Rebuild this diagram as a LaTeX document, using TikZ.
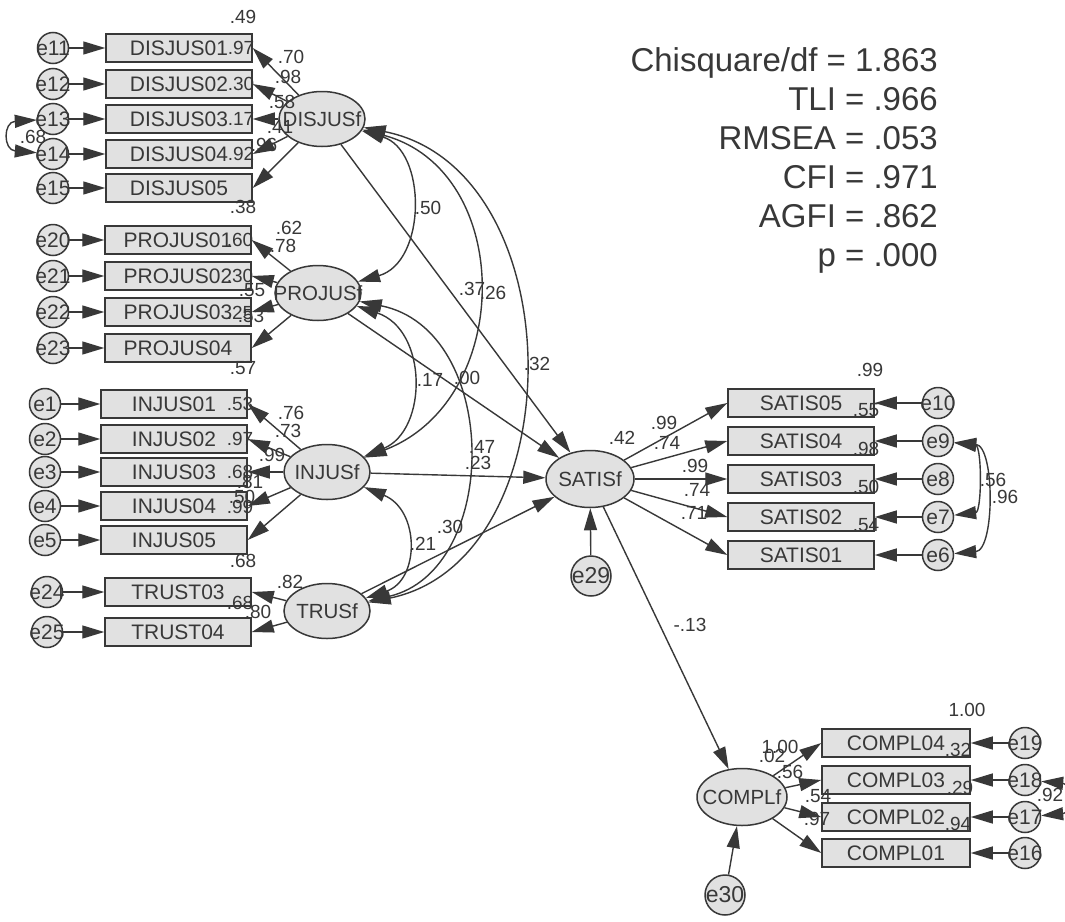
\documentclass[tikz,border=0pt]{standalone}
\usepackage{fontspec}
\setmainfont{Liberation Sans}
\usetikzlibrary{arrows.meta,shapes.geometric}
\definecolor{lc}{HTML}{383838}
\definecolor{fc}{HTML}{E1E1E1}
\newcommand{\fsz}[1]{\fontsize{#1}{#1}\selectfont}
\newcommand{\ov}[1]{\makebox[0pt]{#1}}

\tikzset{
  obs/.style={draw=lc,fill=fc,line width=1.5pt,minimum width=146pt,minimum height=28pt,
    inner sep=0pt,text=lc,font=\fsz{21}},
  lat/.style={ellipse,draw=lc,fill=fc,line width=1.5pt,minimum width=86pt,minimum height=55pt,
    inner sep=0pt,text=lc,font=\fsz{20.5}},
  err/.style={circle,draw=lc,fill=fc,line width=1.5pt,minimum size=31pt,inner sep=0pt,
    text=lc,font=\fsz{21}},
  reg/.style={draw=lc,line width=1.4pt,-{Triangle[length=22pt,width=13pt]}},
  cov/.style={draw=lc,line width=1.4pt,
    {Triangle[length=22pt,width=13pt]}-{Triangle[length=22pt,width=13pt]}},
  coef/.style={text=lc,font=\fsz{19},inner sep=0pt}
}

\begin{document}
\begin{tikzpicture}[x=1pt,y=-1pt]
  \fill[white] (0,0) rectangle (1065,921);
  \useasboundingbox (0,0) rectangle (1065,921);

  % fit indices
  \node[anchor=north east,inner sep=0pt,align=right,text=lc,font={\fontsize{33}{39}\selectfont}]
    (fit) at (938,47) {Chisquare/df = 1.863\\TLI = .966\\RMSEA = .053\\CFI = .971\\AGFI = .862\\p = .000};

  % DISJUS
  \node[obs] (dj1) at (179,48) {DISJUS01};
  \node[obs] (dj2) at (179,84) {DISJUS02};
  \node[obs] (dj3) at (179,119) {DISJUS03};
  \node[obs] (dj4) at (179,154) {DISJUS04};
  \node[obs] (dj5) at (179,188) {DISJUS05};
  \node[err] (e11) at (53,48) {\ov{e11}};
  \node[err] (e12) at (53,84) {\ov{e12}};
  \node[err] (e13) at (53,119) {\ov{e13}};
  \node[err] (e14) at (53,154) {\ov{e14}};
  \node[err] (e15) at (53,188) {\ov{e15}};
  \node[lat] (DISf) at (322,119) {\ov{DISJUSf}};

  % PROJUS
  \node[obs] (pj1) at (178,240) {PROJUS01};
  \node[obs] (pj2) at (178,276) {PROJUS02};
  \node[obs] (pj3) at (178,312) {PROJUS03};
  \node[obs] (pj4) at (178,348) {PROJUS04};
  \node[err] (e20) at (53,240) {\ov{e20}};
  \node[err] (e21) at (53,276) {\ov{e21}};
  \node[err] (e22) at (53,312) {\ov{e22}};
  \node[err] (e23) at (53,348) {\ov{e23}};
  \node[lat] (PROf) at (318,293) {\ov{PROJUSf}};

  % INJUS
  \node[obs] (ij1) at (174,404) {INJUS01};
  \node[obs] (ij2) at (174,439) {INJUS02};
  \node[obs] (ij3) at (174,472) {INJUS03};
  \node[obs] (ij4) at (174,506) {INJUS04};
  \node[obs] (ij5) at (174,540) {INJUS05};
  \node[err] (e1) at (45,404) {\ov{e1}};
  \node[err] (e2) at (45,439) {\ov{e2}};
  \node[err] (e3) at (45,472) {\ov{e3}};
  \node[err] (e4) at (45,506) {\ov{e4}};
  \node[err] (e5) at (45,540) {\ov{e5}};
  \node[lat] (INJf) at (327,472) {\ov{INJUSf}};

  % TRUST
  \node[obs] (tr3) at (178,592) {TRUST03};
  \node[obs] (tr4) at (178,632) {TRUST04};
  \node[err] (e24) at (47,592) {\ov{e24}};
  \node[err] (e25) at (47,632) {\ov{e25}};
  \node[lat] (TRUf) at (327,611) {\ov{TRUSf}};

  % SATIS
  \node[lat,minimum width=88pt,minimum height=57pt] (SATf) at (590,479) {\ov{SATISf}};
  \node[err,minimum size=40pt,font=\fsz{23}] (e29) at (591,576) {\ov{e29}};
  \node[obs] (st5) at (801,403) {SATIS05};
  \node[obs] (st4) at (801,441) {SATIS04};
  \node[obs] (st3) at (801,479) {SATIS03};
  \node[obs] (st2) at (801,517) {SATIS02};
  \node[obs] (st1) at (801,555) {SATIS01};
  \node[err] (e10) at (938,403) {\ov{e10}};
  \node[err] (e9) at (938,441) {\ov{e9}};
  \node[err] (e8) at (938,479) {\ov{e8}};
  \node[err] (e7) at (938,517) {\ov{e7}};
  \node[err] (e6) at (938,555) {\ov{e6}};

  % COMPL
  \node[lat,minimum width=90pt,minimum height=57pt] (COMf) at (742,797) {\ov{COMPLf}};
  \node[err,minimum size=40pt,font=\fsz{23}] (e30) at (725,895) {\ov{e30}};
  \node[obs,minimum width=148pt] (cp4) at (896,743) {COMPL04};
  \node[obs,minimum width=148pt] (cp3) at (896,780) {COMPL03};
  \node[obs,minimum width=148pt] (cp2) at (896,817) {COMPL02};
  \node[obs,minimum width=148pt] (cp1) at (896,853) {COMPL01};
  \node[err] (e19) at (1025,743) {\ov{e19}};
  \node[err] (e18) at (1025,780) {\ov{e18}};
  \node[err] (e17) at (1025,817) {\ov{e17}};
  \node[err] (e16) at (1025,853) {\ov{e16}};

  % error terms
  \draw[reg] (e11) -- (dj1);
  \draw[reg] (e12) -- (dj2);
  \draw[reg] (e13) -- (dj3);
  \draw[reg] (e14) -- (dj4);
  \draw[reg] (e15) -- (dj5);
  \draw[reg] (e20) -- (pj1);
  \draw[reg] (e21) -- (pj2);
  \draw[reg] (e22) -- (pj3);
  \draw[reg] (e23) -- (pj4);
  \draw[reg] (e1) -- (ij1);
  \draw[reg] (e2) -- (ij2);
  \draw[reg] (e3) -- (ij3);
  \draw[reg] (e4) -- (ij4);
  \draw[reg] (e5) -- (ij5);
  \draw[reg] (e24) -- (tr3);
  \draw[reg] (e25) -- (tr4);
  \draw[reg] (e10) -- (st5);
  \draw[reg] (e9) -- (st4);
  \draw[reg] (e8) -- (st3);
  \draw[reg] (e7) -- (st2);
  \draw[reg] (e6) -- (st1);
  \draw[reg] (e19) -- (cp4);
  \draw[reg] (e18) -- (cp3);
  \draw[reg] (e17) -- (cp2);
  \draw[reg] (e16) -- (cp1);
  \draw[reg] (e29) -- (SATf);
  \draw[reg] (e30) -- (COMf);

  % loadings
  \draw[reg] (DISf) -- (dj1.east);
  \draw[reg] (DISf) -- (dj2.east);
  \draw[reg] (DISf) -- (dj3.east);
  \draw[reg] (DISf) -- (dj4.east);
  \draw[reg] (DISf) -- (dj5.east);
  \draw[reg] (PROf) -- (pj1.east);
  \draw[reg] (PROf) -- (pj2.east);
  \draw[reg] (PROf) -- (pj3.east);
  \draw[reg] (PROf) -- (pj4.east);
  \draw[reg] (INJf) -- (ij1.east);
  \draw[reg] (INJf) -- (ij2.east);
  \draw[reg] (INJf) -- (ij3.east);
  \draw[reg] (INJf) -- (ij4.east);
  \draw[reg] (INJf) -- (ij5.east);
  \draw[reg] (TRUf) -- (tr3.east);
  \draw[reg] (TRUf) -- (tr4.east);
  \draw[reg] (SATf) -- (st5.west);
  \draw[reg] (SATf) -- (st4.west);
  \draw[reg] (SATf) -- (st3.west);
  \draw[reg] (SATf) -- (st2.west);
  \draw[reg] (SATf) -- (st1.west);
  \draw[reg] (COMf) -- (cp4.west);
  \draw[reg] (COMf) -- (cp3.west);
  \draw[reg] (COMf) -- (cp2.west);
  \draw[reg] (COMf) -- (cp1.west);

  % structural paths
  \draw[reg] (DISf) -- (SATf);
  \draw[reg] (PROf) -- (SATf);
  \draw[reg] (INJf) -- (SATf);
  \draw[reg] (TRUf) -- (SATf);
  \draw[reg] (SATf) -- (COMf);

  % correlations
  \draw[cov] (DISf) .. controls (427,150) and (427,262) .. (PROf);
  \draw[cov] (DISf) .. controls (515,170) and (515,400) .. (INJf);
  \draw[cov] (DISf) .. controls (575,170) and (575,560) .. (TRUf);
  \draw[cov] (PROf) .. controls (428,330) and (428,430) .. (INJf);
  \draw[cov] (PROf) .. controls (501,330) and (501,570) .. (TRUf);
  \draw[cov] (INJf) .. controls (420,510) and (420,580) .. (TRUf);
  \draw[cov] (e9) .. controls (982,446) and (982,512) .. (e7);
  \draw[cov] (e9) .. controls (995,446) and (995,550) .. (e6);
  \draw[cov] (e13) .. controls (3,122) and (3,150) .. (e14);
  \draw[cov] (e18) .. controls (1072,784) and (1072,813) .. (e17);

  % Labels
  \node[coef] (l1) at (243,17) {.49};
  \node[coef] (l2) at (241,48) {.97};
  \node[coef] (l3) at (291,57) {.70};
  \node[coef] (l4) at (288,77) {.98};
  \node[coef] (l5) at (241,84) {.30};
  \node[coef] (l6) at (282,102) {.58};
  \node[coef] (l7) at (241,119) {.17};
  \node[coef] (l8) at (280,127) {.41};
  \node[coef] (l9) at (264,145) {.96};
  \node[coef] (l10) at (241,154) {.92};
  \node[coef] (l11) at (243,207) {.38};
  \node[coef] (l12) at (33,137) {.68};
  \node[coef] (l13) at (240,240) {.60};
  \node[coef] (l14) at (289,228) {.62};
  \node[coef] (l15) at (283,246) {.78};
  \node[coef] (l16) at (240,276) {.30};
  \node[coef] (l17) at (252,290) {.55};
  \node[coef] (l18) at (240,313) {.25};
  \node[coef] (l19) at (251,316) {.53};
  \node[coef] (l20) at (243,368) {.57};
  \node[coef] (l21) at (240,404) {.53};
  \node[coef] (l22) at (291,413) {.76};
  \node[coef] (l23) at (288,431) {.73};
  \node[coef] (l24) at (240,439) {.97};
  \node[coef] (l25) at (272,455) {.99};
  \node[coef] (l26) at (240,472) {.68};
  \node[coef] (l27) at (250,482) {.81};
  \node[coef] (l28) at (242,497) {.50};
  \node[coef] (l29) at (240,507) {.99};
  \node[coef] (l30) at (243,561) {.68};
  \node[coef] (l31) at (290,582) {.82};
  \node[coef] (l32) at (240,603) {.68};
  \node[coef] (l33) at (258,612) {.80};
  \node[coef] (l34) at (428,208) {.50};
  \node[coef] (l35) at (472,289) {.37};
  \node[coef] (l36) at (493,293) {.26};
  \node[coef] (l37) at (537,364) {.32};
  \node[coef] (l38) at (430,380) {.17};
  \node[coef] (l39) at (467,378) {.00};
  \node[coef] (l40) at (482,447) {.47};
  \node[coef] (l41) at (478,463) {.23};
  \node[coef] (l42) at (450,527) {.30};
  \node[coef] (l43) at (423,544) {.21};
  \node[coef] (l44) at (622,438) {.42};
  \node[coef] (l45) at (690,625) {-.13};
  \node[coef] (l46) at (664,423) {.99};
  \node[coef] (l47) at (667,443) {.74};
  \node[coef] (l48) at (695,466) {.99};
  \node[coef] (l49) at (697,490) {.74};
  \node[coef] (l50) at (694,513) {.71};
  \node[coef] (l51) at (870,370) {.99};
  \node[coef] (l52) at (866,410) {.55};
  \node[coef] (l53) at (866,449) {.98};
  \node[coef] (l54) at (866,487) {.50};
  \node[coef] (l55) at (866,525) {.54};
  \node[coef] (l56) at (993,480) {.56};
  \node[coef] (l57) at (1005,497) {.96};
  \node[coef] (l58) at (780,747) {1.00};
  \node[coef] (l59) at (772,756) {.02};
  \node[coef] (l60) at (790,772) {.56};
  \node[coef] (l61) at (818,796) {.54};
  \node[coef] (l62) at (817,819) {.97};
  \node[coef] (l63) at (958,750) {.32};
  \node[coef] (l64) at (960,788) {.29};
  \node[coef] (l65) at (958,824) {.94};
  \node[coef] (l66) at (967,710) {1.00};
  \node[coef] (l67) at (1050,795) {.92};
\end{tikzpicture}
\end{document}
